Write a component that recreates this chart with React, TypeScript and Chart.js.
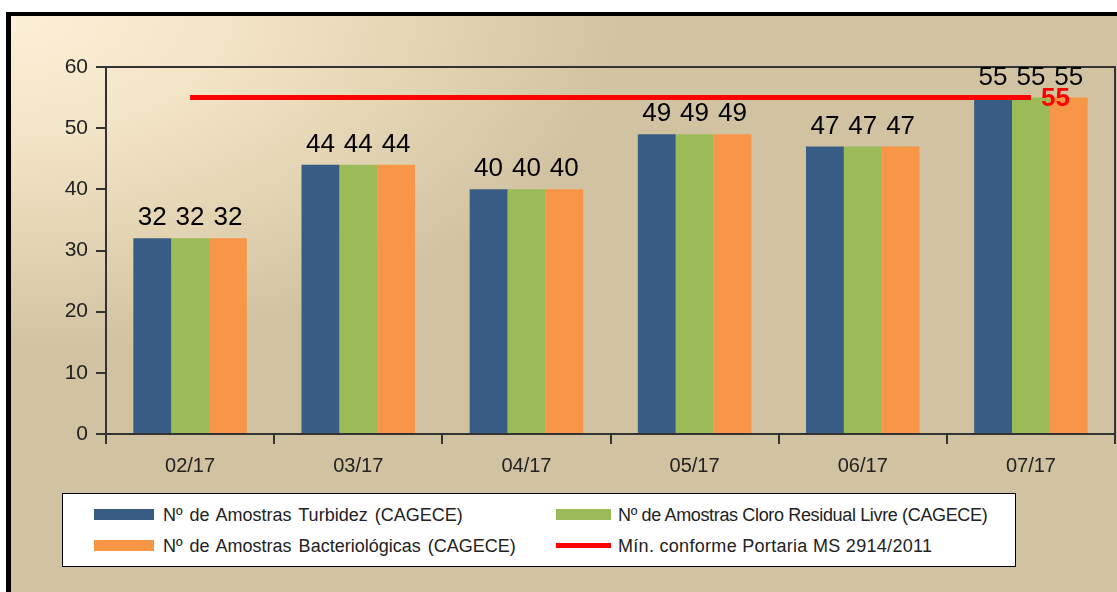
import React, { useEffect, useRef } from "react";
import { Chart, registerables } from "chart.js";
Chart.register(...registerables);

const categories = ["02/17", "03/17", "04/17", "05/17", "06/17", "07/17"];
const turbidez = [32, 44, 40, 49, 47, 55];
const cloro = [32, 44, 40, 49, 47, 55];
const bacterio = [32, 44, 40, 49, 47, 55];
const minimo = [55, 55, 55, 55, 55, 55];
const yMin = 0;
const yMax = 60;
const yStep = 10;
const seriesNames = [
  "Nº de Amostras Turbidez (CAGECE)",
  "Nº de Amostras Cloro Residual Livre (CAGECE)",
  "Nº de Amostras Bacteriológicas (CAGECE)",
  "Mín. conforme Portaria MS 2914/2011",
];
const colors = ["#395C85", "#9BBB59", "#F79646", "#FF0000"];

const FONT = "'Liberation Sans', Arial, sans-serif";

const framePlugin = {
  id: "frame",
  beforeDatasetsDraw(chart: any) {
    const { ctx, chartArea } = chart;
    ctx.save();
    ctx.strokeStyle = "#333";
    ctx.lineWidth = 2;
    ctx.strokeRect(chartArea.left, chartArea.top, chartArea.right - chartArea.left, chartArea.bottom - chartArea.top);
    ctx.restore();
  },
};

const labelPlugin = {
  id: "valueLabels",
  afterDatasetsDraw(chart: any) {
    const { ctx } = chart;
    ctx.save();
    chart.data.datasets.forEach((ds: any, di: number) => {
      const meta = chart.getDatasetMeta(di);
      if (ds.type === "line") {
        const n = meta.data.length;
        const last = meta.data[n - 1];
        ctx.font = `bold 26px ${FONT}`;
        ctx.fillStyle = "#FF0000";
        ctx.textAlign = "left";
        ctx.textBaseline = "middle";
        ctx.fillText(String(ds.data[n - 1]), last.x + 10, last.y + 1);
        return;
      }
      ctx.font = `26px ${FONT}`;
      ctx.fillStyle = "#000";
      ctx.textAlign = "center";
      ctx.textBaseline = "alphabetic";
      meta.data.forEach((el: any, i: number) => {
        ctx.fillText(String(ds.data[i]), el.x, el.y - 13);
      });
    });
    ctx.restore();
  },
};

export default function App() {
  const ref = useRef<HTMLCanvasElement>(null);
  useEffect(() => {
    if (!ref.current) return;
    const chart = new Chart(ref.current, {
      type: "bar",
      data: {
        labels: categories,
        datasets: [
          {
            type: "line",
            label: seriesNames[3],
            data: minimo,
            borderColor: colors[3],
            backgroundColor: colors[3],
            borderWidth: 5,
            pointRadius: 0,
            order: 0,
          } as any,
          { label: seriesNames[0], data: turbidez, backgroundColor: colors[0], order: 1 },
          { label: seriesNames[1], data: cloro, backgroundColor: colors[1], order: 1 },
          { label: seriesNames[2], data: bacterio, backgroundColor: colors[2], order: 1 },
        ],
      },
      options: {
        responsive: false,
        animation: false,
        datasets: { bar: { categoryPercentage: 0.675, barPercentage: 1 } },
        layout: { padding: { top: 55, right: 2, left: 0, bottom: 116 } },
        plugins: { legend: { display: false }, tooltip: { enabled: false } },
        scales: {
          x: {
            grid: { offset: true, drawOnChartArea: false, drawTicks: true, tickLength: 10, color: "#333", lineWidth: 2 },
            border: { color: "#333", width: 2 },
            ticks: { font: { family: FONT, size: 20 }, color: "#222", padding: 10 },
            afterFit: (s: any) => { s.height = 42; },
          },
          y: {
            min: yMin,
            max: yMax,
            grid: { drawOnChartArea: false, drawTicks: true, tickLength: 10, color: "#333", lineWidth: 2 },
            border: { color: "#333", width: 2 },
            ticks: { stepSize: yStep, font: { family: FONT, size: 21 }, color: "#222", padding: 8 },
            afterFit: (s: any) => { s.width = 100; },
          },
        },
      },
      plugins: [framePlugin, labelPlugin],
    });
    return () => chart.destroy();
  }, []);

  const textStyle: React.CSSProperties = {
    position: "absolute",
    fontFamily: FONT,
    fontSize: 18,
    color: "#222",
    lineHeight: "20px",
    whiteSpace: "nowrap",
  };
  const items = [
    { sw: { left: 88, top: 497, width: 60, height: 11 }, tx: { left: 157, top: 493, wordSpacing: 2 }, c: colors[0], n: seriesNames[0] },
    { sw: { left: 550, top: 497, width: 55, height: 11 }, tx: { left: 612, top: 493, letterSpacing: -0.35 }, c: colors[1], n: seriesNames[1] },
    { sw: { left: 88, top: 528, width: 60, height: 11 }, tx: { left: 157, top: 524, wordSpacing: 2 }, c: colors[2], n: seriesNames[2] },
    { sw: { left: 550, top: 531, width: 55, height: 5 }, tx: { left: 612, top: 524, letterSpacing: 0.3 }, c: colors[3], n: seriesNames[3] },
  ];

  return (
    <div
      style={{
        position: "fixed",
        left: 6,
        top: 12,
        width: 1111,
        height: 580,
        overflow: "hidden",
        background:
          "radial-gradient(ellipse 620px 340px at 0 0, #FCF0D8 0%, #F3E5C7 35%, #E2D3B2 70%, #D1C3A1 100%)",
      }}
    >
      <canvas ref={ref} width={1111} height={580} style={{ position: "absolute", left: 0, top: 0 }} />
      <div style={{ position: "absolute", left: 0, top: 0, width: 1111, height: 4, background: "#000" }} />
      <div style={{ position: "absolute", left: 0, top: 0, width: 5, height: 580, background: "#000" }} />
      <div
        style={{
          position: "absolute",
          left: 56,
          top: 481,
          width: 954,
          height: 74,
          background: "#fff",
          border: "1px solid #000",
          boxSizing: "border-box",
        }}
      />
      {items.map((it, i) => (
        <React.Fragment key={i}>
          <div style={{ position: "absolute", ...it.sw, background: it.c }} />
          <div style={{ ...textStyle, ...it.tx }}>{it.n}</div>
        </React.Fragment>
      ))}
    </div>
  );
}
